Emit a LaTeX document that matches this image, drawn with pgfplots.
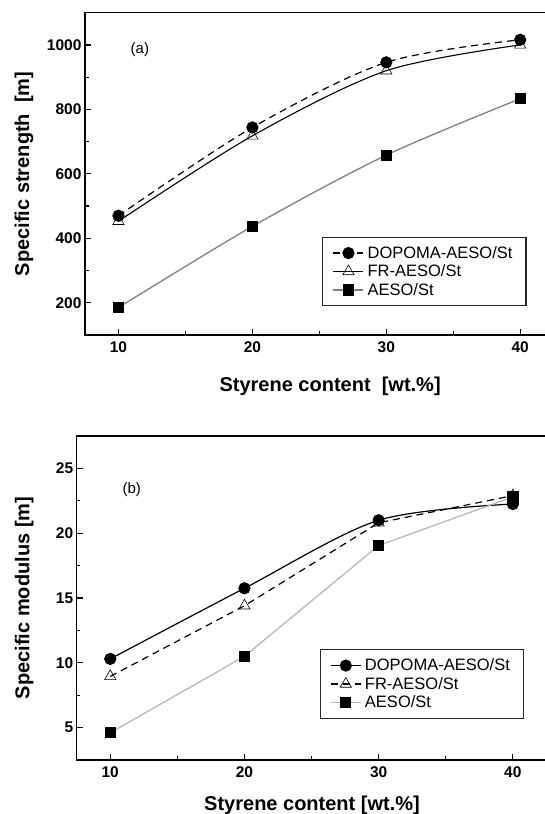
\documentclass[border=0pt]{standalone}
\usepackage{fontspec}
\setmainfont{Liberation Sans}
\usepackage{pgfplots}
\pgfplotsset{compat=1.18}

\definecolor{midgray}{gray}{0.5}
\definecolor{palegray}{gray}{0.72}

\pgfplotsset{
  panel/.style={
    scale only axis,
    xmin=7.5, xmax=42.5,
    xtick={10,20,30,40},
    minor x tick num=1, minor y tick num=1,
    tick pos=left, tick align=inside,
    major tick length=6pt, minor tick length=3.5pt,
    every tick/.style={black, line width=1.2pt},
    axis line style={line width=1.5pt},
    ticklabel style={font=\fontsize{15.5}{15.5}\selectfont\bfseries},
    xticklabel style={yshift=-3pt},
    /pgf/number format/assume math mode=true,
    /pgf/number format/1000 sep={},
    label style={font=\fontsize{20}{20}\selectfont\bfseries},
    legend cell align=left,
    legend style={font=\fontsize{16.5}{20.5}\selectfont, draw=black!85,
      line width=1.3pt, anchor=north west, inner xsep=10pt, inner ysep=6.5pt,
      nodes={inner xsep=3.5pt, inner ysep=2.5pt}},
    legend image code/.code={
      \draw[mark repeat=2, mark phase=2, #1]
        plot coordinates {(0pt,0pt) (15pt,0pt) (30pt,0pt)};},
  },
}

\begin{document}
\begin{tikzpicture}
% (a) specific strength
\begin{axis}[panel,
  at={(85pt,479pt)}, anchor=south west,
  width=468.7pt, height=322.3pt,
  ymin=100, ymax=1100,
  ytick={200,400,600,800,1000},
  xlabel={Styrene content\ \ [wt.\%]},
  ylabel={Specific strength\ \ [m]},
  xlabel style={at={(axis description cs:0.523,-0.160)}, anchor=center},
  ylabel style={at={(axis description cs:-0.130,0.5)}, anchor=center},
  legend style={at={(0.506,0.305)}},
]
\addplot[black, line width=1.2pt, dash pattern=on 7pt off 5pt, smooth,
  mark=*, mark size=5.5pt, mark options={solid, fill=black}]
  coordinates {(10,470) (20,744) (30,946) (40,1016)};
\addlegendentry{DOPOMA-AESO/St}
\addplot[black, line width=1.1pt, smooth,
  mark=triangle, mark size=6.5pt, mark options={solid, fill=white, line width=0.6pt}]
  coordinates {(10,453) (20,718) (30,920) (40,1000)};
\addlegendentry{FR-AESO/St}
\addplot[midgray, line width=1.3pt, smooth,
  mark=square*, mark size=5pt, mark options={solid, fill=black, draw=black}]
  coordinates {(10,185) (20,437) (30,658) (40,833)};
\addlegendentry{AESO/St}
\node[font=\fontsize{15}{15}\selectfont] at (axis cs:11.6,985) {(a)};
\end{axis}

% (b) specific modulus
\begin{axis}[panel,
  at={(76.7pt,54pt)}, anchor=south west,
  width=469.7pt, height=324pt,
  ymin=2.5, ymax=27.5,
  ytick={5,10,15,20,25},
  xlabel={Styrene content [wt.\%]},
  ylabel={Specific modulus [m]},
  xlabel style={at={(axis description cs:0.501,-0.139)}, anchor=center},
  ylabel style={at={(axis description cs:-0.112,0.5)}, anchor=center},
  legend style={at={(0.517,0.342)}},
]
\addplot[black, line width=1.2pt, smooth,
  mark=*, mark size=5.5pt, mark options={solid, fill=black}]
  coordinates {(10,10.3) (20,15.75) (30,21.0) (40,22.25)};
\addlegendentry{DOPOMA-AESO/St}
\addplot[black, line width=1.2pt, dash pattern=on 7pt off 5pt,
  mark=triangle, mark size=6.5pt, mark options={solid, fill=white, line width=0.6pt}]
  coordinates {(10,8.95) (20,14.4) (30,20.8) (40,22.9)};
\addlegendentry{FR-AESO/St}
\addplot[palegray, line width=1.3pt,
  mark=square*, mark size=5pt, mark options={solid, fill=black, draw=black}]
  coordinates {(10,4.6) (20,10.5) (30,19.05) (40,22.8)};
\addlegendentry{AESO/St}
\node[font=\fontsize{15}{15}\selectfont] at (axis cs:11.6,23.4) {(b)};
\end{axis}

\pgfresetboundingbox
\path[use as bounding box] (0,0) rectangle (544pt,814pt);
\end{tikzpicture}
\end{document}
